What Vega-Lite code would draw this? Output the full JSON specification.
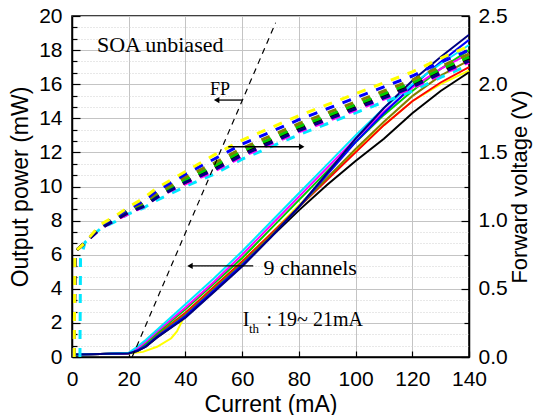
{
 "$schema": "https://vega.github.io/schema/vega-lite/v6.json",
 "width": 397, "height": 341,
 "autosize": {"type": "none"},
 "padding": {"left": 72, "top": 16, "right": 66, "bottom": 58},
 "background": "white",
 "config": {
  "view": {"stroke": "black", "strokeWidth": 1.5},
  "axis": {"domainColor": "black", "domainWidth": 1.5, "tickColor": "black", "tickWidth": 1.2, "labelColor": "black", "titleColor": "black", "labelFont": "Liberation Sans", "titleFont": "Liberation Sans", "labelFontSize": 21, "titleFontSize": 23, "titleFontWeight": "normal", "gridColor": "#c4c4c4", "gridWidth": 1}
 },
 "datasets": {
  "power": [
   {"ch":"yellow","I":0,"P":0.15},{"ch":"yellow","I":10,"P":0.18},{"ch":"yellow","I":20,"P":0.2},{"ch":"yellow","I":25,"P":0.3},{"ch":"yellow","I":30,"P":0.6},{"ch":"yellow","I":35,"P":1.1},{"ch":"yellow","I":37,"P":1.5},{"ch":"yellow","I":40,"P":2.5},{"ch":"yellow","I":50,"P":4.0},{"ch":"yellow","I":60,"P":5.6},{"ch":"yellow","I":70,"P":7.2},{"ch":"yellow","I":80,"P":8.9},{"ch":"yellow","I":90,"P":10.5},{"ch":"yellow","I":100,"P":12.1},{"ch":"yellow","I":110,"P":13.6},{"ch":"yellow","I":120,"P":15.0},{"ch":"yellow","I":130,"P":16.0},{"ch":"yellow","I":140,"P":16.8},
   {"ch":"red","I":0,"P":0.15},{"ch":"red","I":10,"P":0.18},{"ch":"red","I":20,"P":0.22},{"ch":"red","I":23,"P":0.4},{"ch":"red","I":26,"P":0.7},{"ch":"red","I":30,"P":1.3},{"ch":"red","I":40,"P":2.6},{"ch":"red","I":50,"P":4.1},{"ch":"red","I":60,"P":5.6},{"ch":"red","I":70,"P":7.2},{"ch":"red","I":80,"P":8.8},{"ch":"red","I":90,"P":10.4},{"ch":"red","I":100,"P":12.0},{"ch":"red","I":110,"P":13.6},{"ch":"red","I":120,"P":15.0},{"ch":"red","I":130,"P":16.1},{"ch":"red","I":140,"P":17.0},
   {"ch":"olive","I":0,"P":0.15},{"ch":"olive","I":10,"P":0.18},{"ch":"olive","I":20,"P":0.22},{"ch":"olive","I":23,"P":0.4},{"ch":"olive","I":26,"P":0.7},{"ch":"olive","I":30,"P":1.25},{"ch":"olive","I":40,"P":2.5},{"ch":"olive","I":50,"P":4.0},{"ch":"olive","I":60,"P":5.5},{"ch":"olive","I":70,"P":7.1},{"ch":"olive","I":80,"P":8.8},{"ch":"olive","I":90,"P":10.5},{"ch":"olive","I":100,"P":12.2},{"ch":"olive","I":110,"P":13.8},{"ch":"olive","I":120,"P":15.3},{"ch":"olive","I":130,"P":16.5},{"ch":"olive","I":140,"P":17.4},
   {"ch":"green","I":0,"P":0.15},{"ch":"green","I":10,"P":0.18},{"ch":"green","I":20,"P":0.22},{"ch":"green","I":23,"P":0.45},{"ch":"green","I":26,"P":0.8},{"ch":"green","I":30,"P":1.4},{"ch":"green","I":40,"P":2.8},{"ch":"green","I":50,"P":4.3},{"ch":"green","I":60,"P":5.8},{"ch":"green","I":70,"P":7.5},{"ch":"green","I":80,"P":9.2},{"ch":"green","I":90,"P":10.9},{"ch":"green","I":100,"P":12.6},{"ch":"green","I":110,"P":14.2},{"ch":"green","I":120,"P":15.6},{"ch":"green","I":130,"P":16.9},{"ch":"green","I":140,"P":18.0},
   {"ch":"black","I":0,"P":0.15},{"ch":"black","I":10,"P":0.18},{"ch":"black","I":20,"P":0.22},{"ch":"black","I":23,"P":0.35},{"ch":"black","I":26,"P":0.6},{"ch":"black","I":30,"P":1.15},{"ch":"black","I":40,"P":2.35},{"ch":"black","I":50,"P":3.85},{"ch":"black","I":60,"P":5.35},{"ch":"black","I":70,"P":7.0},{"ch":"black","I":80,"P":8.6},{"ch":"black","I":90,"P":10.1},{"ch":"black","I":100,"P":11.5},{"ch":"black","I":110,"P":12.8},{"ch":"black","I":120,"P":14.3},{"ch":"black","I":130,"P":15.6},{"ch":"black","I":140,"P":16.7},
   {"ch":"magenta","I":0,"P":0.15},{"ch":"magenta","I":10,"P":0.18},{"ch":"magenta","I":20,"P":0.22},{"ch":"magenta","I":23,"P":0.5},{"ch":"magenta","I":26,"P":0.9},{"ch":"magenta","I":30,"P":1.5},{"ch":"magenta","I":40,"P":2.9},{"ch":"magenta","I":50,"P":4.4},{"ch":"magenta","I":60,"P":6.0},{"ch":"magenta","I":70,"P":7.7},{"ch":"magenta","I":80,"P":9.4},{"ch":"magenta","I":90,"P":11.1},{"ch":"magenta","I":100,"P":12.8},{"ch":"magenta","I":110,"P":14.4},{"ch":"magenta","I":120,"P":15.8},{"ch":"magenta","I":130,"P":16.9},{"ch":"magenta","I":140,"P":17.8},
   {"ch":"blue","I":0,"P":0.15},{"ch":"blue","I":10,"P":0.18},{"ch":"blue","I":20,"P":0.22},{"ch":"blue","I":23,"P":0.38},{"ch":"blue","I":26,"P":0.65},{"ch":"blue","I":30,"P":1.2},{"ch":"blue","I":40,"P":2.4},{"ch":"blue","I":50,"P":3.9},{"ch":"blue","I":60,"P":5.4},{"ch":"blue","I":70,"P":7.0},{"ch":"blue","I":80,"P":8.8},{"ch":"blue","I":90,"P":10.7},{"ch":"blue","I":100,"P":12.6},{"ch":"blue","I":110,"P":14.3},{"ch":"blue","I":120,"P":15.9},{"ch":"blue","I":130,"P":17.3},{"ch":"blue","I":140,"P":18.6},
   {"ch":"cyan","I":0,"P":0.15},{"ch":"cyan","I":10,"P":0.18},{"ch":"cyan","I":20,"P":0.25},{"ch":"cyan","I":23,"P":0.6},{"ch":"cyan","I":26,"P":1.0},{"ch":"cyan","I":30,"P":1.6},{"ch":"cyan","I":40,"P":3.1},{"ch":"cyan","I":50,"P":4.6},{"ch":"cyan","I":60,"P":6.2},{"ch":"cyan","I":70,"P":7.9},{"ch":"cyan","I":80,"P":9.6},{"ch":"cyan","I":90,"P":11.3},{"ch":"cyan","I":100,"P":13.0},{"ch":"cyan","I":110,"P":14.6},{"ch":"cyan","I":120,"P":16.0},{"ch":"cyan","I":130,"P":17.2},{"ch":"cyan","I":140,"P":18.3},
   {"ch":"navy","I":0,"P":0.15},{"ch":"navy","I":10,"P":0.18},{"ch":"navy","I":20,"P":0.22},{"ch":"navy","I":23,"P":0.35},{"ch":"navy","I":26,"P":0.6},{"ch":"navy","I":30,"P":1.15},{"ch":"navy","I":40,"P":2.3},{"ch":"navy","I":50,"P":3.8},{"ch":"navy","I":60,"P":5.3},{"ch":"navy","I":70,"P":7.0},{"ch":"navy","I":80,"P":8.8},{"ch":"navy","I":90,"P":10.8},{"ch":"navy","I":100,"P":12.8},{"ch":"navy","I":110,"P":14.6},{"ch":"navy","I":120,"P":16.2},{"ch":"navy","I":130,"P":17.6},{"ch":"navy","I":140,"P":18.9}
  ],
  "volt": [
   {"ch":"cyan","I":2.8,"V":0},{"ch":"cyan","I":3,"V":0.72},{"ch":"cyan","I":4.6,"V":0.84},{"ch":"cyan","I":10,"V":0.94},{"ch":"cyan","I":15,"V":0.99},{"ch":"cyan","I":20,"V":1.05},{"ch":"cyan","I":25,"V":1.09},{"ch":"cyan","I":30,"V":1.15},{"ch":"cyan","I":40,"V":1.25},{"ch":"cyan","I":50,"V":1.34},{"ch":"cyan","I":60,"V":1.45},{"ch":"cyan","I":70,"V":1.54},{"ch":"cyan","I":80,"V":1.63},{"ch":"cyan","I":90,"V":1.71},{"ch":"cyan","I":100,"V":1.79},{"ch":"cyan","I":110,"V":1.87},{"ch":"cyan","I":120,"V":1.95},{"ch":"cyan","I":130,"V":2.05},{"ch":"cyan","I":140,"V":2.14},
   {"ch":"magenta","I":0.8,"V":0},{"ch":"magenta","I":1,"V":0.77},{"ch":"magenta","I":4.6,"V":0.84},{"ch":"magenta","I":10,"V":0.94},{"ch":"magenta","I":15,"V":1.0},{"ch":"magenta","I":20,"V":1.05},{"ch":"magenta","I":25,"V":1.1},{"ch":"magenta","I":30,"V":1.17},{"ch":"magenta","I":40,"V":1.27},{"ch":"magenta","I":50,"V":1.36},{"ch":"magenta","I":60,"V":1.47},{"ch":"magenta","I":70,"V":1.56},{"ch":"magenta","I":80,"V":1.65},{"ch":"magenta","I":90,"V":1.73},{"ch":"magenta","I":100,"V":1.81},{"ch":"magenta","I":110,"V":1.89},{"ch":"magenta","I":120,"V":1.97},{"ch":"magenta","I":130,"V":2.07},{"ch":"magenta","I":140,"V":2.16},
   {"ch":"red","I":0.8,"V":0},{"ch":"red","I":1,"V":0.77},{"ch":"red","I":4.6,"V":0.84},{"ch":"red","I":10,"V":0.95},{"ch":"red","I":15,"V":1.0},{"ch":"red","I":20,"V":1.06},{"ch":"red","I":25,"V":1.11},{"ch":"red","I":30,"V":1.18},{"ch":"red","I":40,"V":1.28},{"ch":"red","I":50,"V":1.38},{"ch":"red","I":60,"V":1.49},{"ch":"red","I":70,"V":1.58},{"ch":"red","I":80,"V":1.67},{"ch":"red","I":90,"V":1.75},{"ch":"red","I":100,"V":1.83},{"ch":"red","I":110,"V":1.91},{"ch":"red","I":120,"V":1.99},{"ch":"red","I":130,"V":2.09},{"ch":"red","I":140,"V":2.18},
   {"ch":"black","I":0.8,"V":0},{"ch":"black","I":1,"V":0.77},{"ch":"black","I":4.6,"V":0.84},{"ch":"black","I":10,"V":0.95},{"ch":"black","I":15,"V":1.01},{"ch":"black","I":20,"V":1.07},{"ch":"black","I":25,"V":1.12},{"ch":"black","I":30,"V":1.18},{"ch":"black","I":40,"V":1.29},{"ch":"black","I":50,"V":1.39},{"ch":"black","I":60,"V":1.5},{"ch":"black","I":70,"V":1.59},{"ch":"black","I":80,"V":1.68},{"ch":"black","I":90,"V":1.76},{"ch":"black","I":100,"V":1.84},{"ch":"black","I":110,"V":1.92},{"ch":"black","I":120,"V":2.0},{"ch":"black","I":130,"V":2.1},{"ch":"black","I":140,"V":2.19},
   {"ch":"green","I":0.8,"V":0},{"ch":"green","I":1,"V":0.77},{"ch":"green","I":4.6,"V":0.84},{"ch":"green","I":10,"V":0.95},{"ch":"green","I":15,"V":1.01},{"ch":"green","I":20,"V":1.07},{"ch":"green","I":25,"V":1.12},{"ch":"green","I":30,"V":1.19},{"ch":"green","I":40,"V":1.3},{"ch":"green","I":50,"V":1.4},{"ch":"green","I":60,"V":1.51},{"ch":"green","I":70,"V":1.6},{"ch":"green","I":80,"V":1.69},{"ch":"green","I":90,"V":1.77},{"ch":"green","I":100,"V":1.85},{"ch":"green","I":110,"V":1.93},{"ch":"green","I":120,"V":2.01},{"ch":"green","I":130,"V":2.11},{"ch":"green","I":140,"V":2.2},
   {"ch":"olive","I":0.8,"V":0},{"ch":"olive","I":1,"V":0.77},{"ch":"olive","I":4.6,"V":0.84},{"ch":"olive","I":10,"V":0.95},{"ch":"olive","I":15,"V":1.02},{"ch":"olive","I":20,"V":1.08},{"ch":"olive","I":25,"V":1.13},{"ch":"olive","I":30,"V":1.2},{"ch":"olive","I":40,"V":1.32},{"ch":"olive","I":50,"V":1.42},{"ch":"olive","I":60,"V":1.53},{"ch":"olive","I":70,"V":1.62},{"ch":"olive","I":80,"V":1.71},{"ch":"olive","I":90,"V":1.79},{"ch":"olive","I":100,"V":1.87},{"ch":"olive","I":110,"V":1.95},{"ch":"olive","I":120,"V":2.03},{"ch":"olive","I":130,"V":2.13},{"ch":"olive","I":140,"V":2.22},
   {"ch":"blue","I":0.8,"V":0},{"ch":"blue","I":1,"V":0.77},{"ch":"blue","I":4.6,"V":0.84},{"ch":"blue","I":10,"V":0.96},{"ch":"blue","I":15,"V":1.02},{"ch":"blue","I":20,"V":1.09},{"ch":"blue","I":25,"V":1.14},{"ch":"blue","I":30,"V":1.22},{"ch":"blue","I":40,"V":1.34},{"ch":"blue","I":50,"V":1.45},{"ch":"blue","I":60,"V":1.56},{"ch":"blue","I":70,"V":1.65},{"ch":"blue","I":80,"V":1.74},{"ch":"blue","I":90,"V":1.82},{"ch":"blue","I":100,"V":1.9},{"ch":"blue","I":110,"V":1.98},{"ch":"blue","I":120,"V":2.06},{"ch":"blue","I":130,"V":2.16},{"ch":"blue","I":140,"V":2.25},
   {"ch":"navy","I":0.8,"V":0},{"ch":"navy","I":1,"V":0.77},{"ch":"navy","I":4.6,"V":0.84},{"ch":"navy","I":10,"V":0.94},{"ch":"navy","I":15,"V":1.0},{"ch":"navy","I":20,"V":1.06},{"ch":"navy","I":25,"V":1.1},{"ch":"navy","I":30,"V":1.17},{"ch":"navy","I":40,"V":1.28},{"ch":"navy","I":50,"V":1.37},{"ch":"navy","I":60,"V":1.48},{"ch":"navy","I":70,"V":1.57},{"ch":"navy","I":80,"V":1.66},{"ch":"navy","I":90,"V":1.74},{"ch":"navy","I":100,"V":1.82},{"ch":"navy","I":110,"V":1.9},{"ch":"navy","I":120,"V":1.98},{"ch":"navy","I":130,"V":2.08},{"ch":"navy","I":140,"V":2.17},
   {"ch":"yellow","I":0.8,"V":0},{"ch":"yellow","I":1,"V":0.77},{"ch":"yellow","I":4.6,"V":0.84},{"ch":"yellow","I":10,"V":0.97},{"ch":"yellow","I":15,"V":1.03},{"ch":"yellow","I":20,"V":1.1},{"ch":"yellow","I":25,"V":1.16},{"ch":"yellow","I":30,"V":1.24},{"ch":"yellow","I":40,"V":1.36},{"ch":"yellow","I":50,"V":1.48},{"ch":"yellow","I":60,"V":1.59},{"ch":"yellow","I":70,"V":1.68},{"ch":"yellow","I":80,"V":1.77},{"ch":"yellow","I":90,"V":1.85},{"ch":"yellow","I":100,"V":1.93},{"ch":"yellow","I":110,"V":2.01},{"ch":"yellow","I":120,"V":2.09},{"ch":"yellow","I":130,"V":2.19},{"ch":"yellow","I":140,"V":2.28}
  ],
  "fp": [{"I":21.2,"P":0},{"I":71.8,"P":19.6}],
  "arrows": [
   {"I1":60.0,"I2":51.0,"P":15.07,"dir":"left"},
   {"I1":55.1,"I2":81.0,"P":12.33,"dir":"right"},
   {"I1":63.9,"I2":41.6,"P":5.34,"dir":"left"}
  ],
  "bigtexts": [
   {"I":8.8,"P":17.9,"label":"SOA unbiased"},
   {"I":67.5,"P":4.81,"label":"9 channels"}
  ],
  "texts": [
   {"I":60.2,"P":1.82,"label":"I"},
   {"I":68.6,"P":1.82,"label":": 19~ 21mA"}
  ],
  "fptext": [{"I":52.2,"P":15.37,"label":"FP"}],
  "sub": [{"I":62.4,"P":1.39,"label":"th"}]
 },
 "layer": [
  {
   "data": {"name": "power"},
   "mark": {"type": "line", "strokeWidth": 2},
   "encoding": {
    "x": {"field": "I", "type": "quantitative", "scale": {"domain": [0, 140], "nice": false},
          "axis": {"values": [0, 20, 40, 60, 80, 100, 120, 140], "title": "Current (mA)", "grid": true, "tickSize": -6, "labelPadding": 17, "titlePadding": 4, "labelFlush": false}},
    "y": {"field": "P", "type": "quantitative", "scale": {"domain": [0, 20], "nice": false},
          "axis": {"orient": "left", "values": [0, 2, 4, 6, 8, 10, 12, 14, 16, 18, 20], "title": "Output power (mW)", "grid": true, "tickSize": -8, "labelPadding": 18, "titlePadding": 6}},
    "color": {"field": "ch", "type": "nominal", "legend": null,
              "scale": {"domain": ["black", "red", "green", "blue", "cyan", "magenta", "yellow", "olive", "navy"],
                        "range": ["#000000", "#ff0000", "#00d000", "#0000ff", "#00e8ff", "#ff00ff", "#ffff00", "#808000", "#000080"]}}
   }
  },
  {
   "data": {"name": "volt"},
   "mark": {"type": "line", "strokeWidth": 3, "strokeDash": [9, 9]},
   "encoding": {
    "x": {"field": "I", "type": "quantitative"},
    "y": {"field": "V", "type": "quantitative", "scale": {"domain": [0, 2.5], "nice": false},
          "axis": {"orient": "right", "values": [0, 0.5, 1, 1.5, 2, 2.5], "format": ".1f", "title": "Forward voltage (V)", "titleFontSize": 22, "grid": false, "tickSize": -8, "labelPadding": 17, "titleAngle": 270, "titleBaseline": "top", "titlePadding": 2}},
    "color": {"field": "ch", "type": "nominal", "legend": null}
   }
  },
  {
   "data": {"name": "fp"},
   "mark": {"type": "line", "color": "black", "strokeWidth": 1.2, "strokeDash": [6, 5]},
   "encoding": {
    "x": {"field": "I", "type": "quantitative"},
    "y": {"field": "P", "type": "quantitative", "scale": {"domain": [0, 20], "nice": false},
          "axis": {"orient": "left", "values": [0.667, 1.333, 2.667, 3.333, 4.667, 5.333, 6.667, 7.333, 8.667, 9.333, 10.667, 11.333, 12.667, 13.333, 14.667, 15.333, 16.667, 17.333, 18.667, 19.333], "labels": false, "domain": false, "title": null, "tickSize": -5, "grid": true, "gridDash": [1, 2], "gridColor": "#d0d0d0"}}
   }
  },
  {
   "data": {"name": "arrows"},
   "mark": {"type": "rule", "color": "black", "strokeWidth": 1.3},
   "encoding": {
    "x": {"field": "I1", "type": "quantitative"},
    "x2": {"field": "I2"},
    "y": {"field": "P", "type": "quantitative", "scale": {"domain": [0, 20], "nice": false}, "axis": null}
   }
  },
  {
   "data": {"name": "arrows"},
   "mark": {"type": "point", "filled": true, "color": "black", "size": 40, "opacity": 1},
   "encoding": {
    "x": {"field": "I2", "type": "quantitative"},
    "y": {"field": "P", "type": "quantitative", "scale": {"domain": [0, 20], "nice": false}, "axis": null},
    "shape": {"field": "dir", "type": "nominal", "legend": null, "scale": {"domain": ["left", "right"], "range": ["triangle-left", "triangle-right"]}}
   }
  },
  {
   "data": {"name": "bigtexts"},
   "mark": {"type": "text", "font": "Liberation Serif", "fontSize": 22, "align": "left", "baseline": "alphabetic", "color": "black"},
   "encoding": {
    "x": {"field": "I", "type": "quantitative"},
    "y": {"field": "P", "type": "quantitative", "scale": {"domain": [0, 20], "nice": false},
          "axis": {"orient": "right", "values": [2, 6, 10, 14, 18], "labels": false, "domain": false, "title": null, "tickSize": -5, "grid": false}},
    "text": {"field": "label"}
   }
  },
  {
   "data": {"name": "texts"},
   "mark": {"type": "text", "font": "Liberation Serif", "fontSize": 20, "align": "left", "baseline": "alphabetic", "color": "black"},
   "encoding": {
    "x": {"field": "I", "type": "quantitative"},
    "y": {"field": "P", "type": "quantitative", "scale": {"domain": [0, 20], "nice": false}, "axis": null},
    "text": {"field": "label"}
   }
  },
  {
   "data": {"name": "fptext"},
   "mark": {"type": "text", "font": "Liberation Serif", "fontSize": 18, "align": "center", "baseline": "alphabetic", "color": "black"},
   "encoding": {
    "x": {"field": "I", "type": "quantitative"},
    "y": {"field": "P", "type": "quantitative", "scale": {"domain": [0, 20], "nice": false}, "axis": null},
    "text": {"field": "label"}
   }
  },
  {
   "data": {"name": "sub"},
   "mark": {"type": "text", "font": "Liberation Serif", "fontSize": 13, "align": "left", "baseline": "alphabetic", "color": "black"},
   "encoding": {
    "x": {"field": "I", "type": "quantitative"},
    "y": {"field": "P", "type": "quantitative", "scale": {"domain": [0, 20], "nice": false}, "axis": null},
    "text": {"field": "label"}
   }
  }
 ],
 "resolve": {"scale": {"y": "independent"}, "axis": {"y": "independent"}}
}
